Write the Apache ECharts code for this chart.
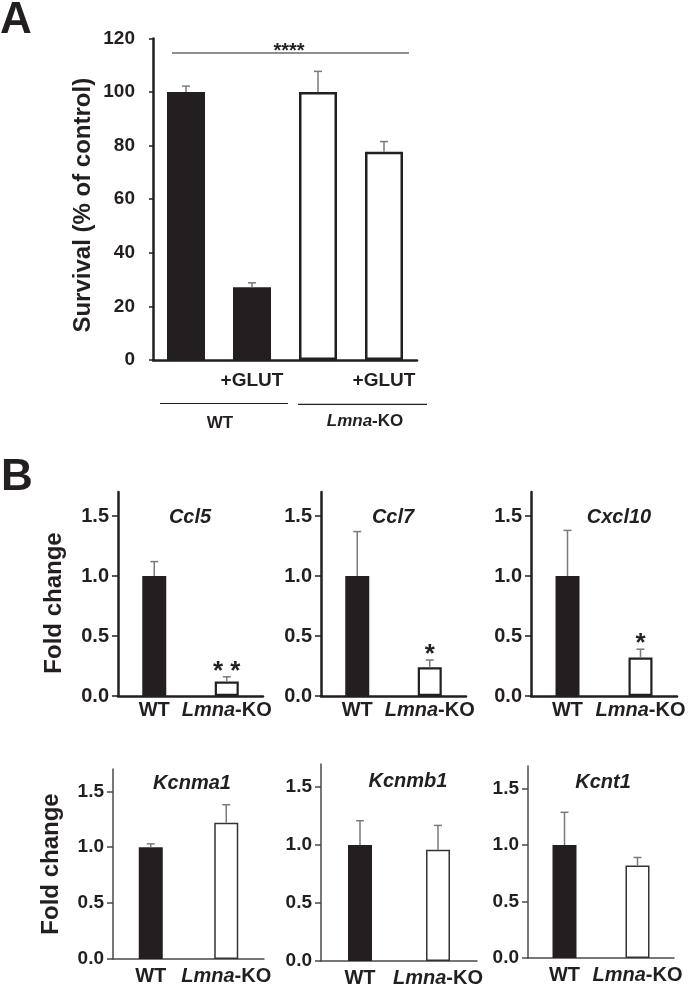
<!DOCTYPE html>
<html>
<head>
<meta charset="utf-8">
<script src="https://cdn.jsdelivr.net/npm/echarts@6/dist/echarts.min.js"></script>
<style>
  html, body { margin: 0; padding: 0; background: #fff; }
  #chart { width: 697px; height: 992px; }
</style>
</head>
<body>
<div id="chart"></div>
<script>
// panel A: survival after glutamate
const survivalCats = ['WT', 'WT +GLUT', 'Lmna-KO', 'Lmna-KO +GLUT']
const survivalMean = [100, 27.1, 100, 77.7]
const survivalErr = [2.2, 1.7, 7.7, 3.8]
const survivalTicks = [0, 20, 40, 60, 80, 100, 120]

// panel B: fold change per gene
const groups = ['WT', 'Lmna-KO']
const genes = ['Ccl5', 'Ccl7', 'Cxcl10', 'Kcnma1', 'Kcnmb1', 'Kcnt1']
const wtMean = [1, 1, 1, 1, 1, 1]
const wtErr = [0.12, 0.37, 0.38, 0.03, 0.21, 0.29]
const koMean = [0.12, 0.24, 0.32, 1.22, 0.96, 0.82]
const koErr = [0.04, 0.06, 0.07, 0.16, 0.21, 0.07]
const koStars = ['**', '*', '*', '', '', '']
const foldTicks = [0, 0.5, 1, 1.5]

const FONT = '"Liberation Sans", Arial, Helvetica, sans-serif'
const BLACK = '#231f20'
const ERR = '#7a7a7a'

// grid boxes for the six small panels, plus where each gene name sits
const panels = [
  { left: 118, top: 492, width: 145, height: 204, title: [190, 517] },
  { left: 321, top: 492, width: 145, height: 204, title: [393, 517] },
  { left: 531, top: 492, width: 146, height: 204, title: [619, 517] },
  { left: 113, top: 769, width: 151, height: 190, title: [192, 783] },
  { left: 321, top: 764, width: 156, height: 197, title: [408, 781] },
  { left: 528, top: 766, width: 146, height: 192, title: [603, 782] }
]

function errorBars(stars, capHalf) {
  return function(params, api) {
    const x = api.value(0)
    const m = api.value(1)
    const e = api.value(2)
    const base = api.coord([x, m])
    const top = api.coord([x, m + e])
    const stroke = { stroke: ERR, lineWidth: 1.5 }
    const children = [
      { type: 'line', shape: { x1: base[0], y1: base[1], x2: top[0], y2: top[1] }, style: stroke },
      { type: 'line', shape: { x1: top[0] - capHalf, y1: top[1], x2: top[0] + capHalf, y2: top[1] }, style: stroke }
    ]
    const star = stars && stars[params.dataIndex]
    if (star) {
      children.push({
        type: 'text',
        x: top[0],
        y: top[1] + 8,
        style: { text: star.split('').join(' '), align: 'center', verticalAlign: 'bottom', font: 'bold 26px ' + FONT, fill: BLACK }
      })
    }
    return { type: 'group', children }
  }
}

function groupLabel(v) {
  const p = v.split('-')
  return p.length > 1 ? '{i|' + p[0] + '}{n|-' + p[1] + '}' : '{n|' + v + '}'
}

const grid = [{ left: 153, top: 38.4, width: 264, height: 321.6 }]
const xAxis = [{
  type: 'category',
  gridIndex: 0,
  data: survivalCats,
  axisTick: { show: false },
  axisLine: { lineStyle: { color: BLACK, width: 2.5 } },
  axisLabel: {
    interval: 0,
    hideOverlap: false,
    margin: 11,
    fontSize: 19,
    fontWeight: 'bold',
    fontFamily: FONT,
    color: BLACK,
    formatter: v => v.indexOf('+GLUT') >= 0 ? '+GLUT' : ''
  }
}]
const yAxis = [{
  type: 'value',
  gridIndex: 0,
  min: 0,
  max: 120,
  interval: 20,
  splitLine: { show: false },
  axisLine: { show: true, lineStyle: { color: BLACK, width: 2.5 } },
  axisTick: { show: true, length: 4, lineStyle: { color: BLACK, width: 1.5 }, customValues: survivalTicks },
  axisLabel: { margin: 18, fontSize: 19, fontWeight: 'bold', fontFamily: FONT, color: BLACK, customValues: survivalTicks },
  name: 'Survival (% of control)',
  nameLocation: 'middle',
  nameGap: 58,
  nameTextStyle: { fontSize: 24, fontWeight: 'bold', fontFamily: FONT, color: BLACK, padding: [0, 12, 0, 0] }
}]
const series = [{
  type: 'bar',
  xAxisIndex: 0,
  yAxisIndex: 0,
  barWidth: 38,
  silent: true,
  data: survivalMean.map((v, i) => ({
    value: v,
    itemStyle: i < 2
      ? { color: BLACK }
      : { color: '#fff', borderColor: BLACK, borderWidth: 2.5 }
  }))
}, {
  type: 'custom',
  xAxisIndex: 0,
  yAxisIndex: 0,
  z: 3,
  silent: true,
  renderItem: errorBars(null, 4),
  data: survivalMean.map((v, i) => [i, v, survivalErr[i]])
}]

panels.forEach((p, i) => {
  const idx = i + 1
  const topRow = i < 3
  const axisColor = topRow ? BLACK : '#4a4a4a'
  const axisWidth = topRow ? 2.5 : 1.5
  grid.push({ left: p.left, top: p.top, width: p.width, height: p.height })
  xAxis.push({
    type: 'category',
    gridIndex: idx,
    data: groups,
    axisTick: { show: false },
    axisLine: { lineStyle: { color: axisColor, width: axisWidth } },
    axisLabel: {
      interval: 0,
      hideOverlap: false,
      margin: topRow ? 4 : 7,
      formatter: groupLabel,
      rich: {
        i: { fontStyle: 'italic', fontWeight: 'bold', fontSize: 20, fontFamily: FONT, color: BLACK },
        n: { fontWeight: 'bold', fontSize: 20, fontFamily: FONT, color: BLACK }
      }
    }
  })
  yAxis.push({
    type: 'value',
    gridIndex: idx,
    min: 0,
    max: 1.7,
    splitLine: { show: false },
    axisLine: { show: true, lineStyle: { color: axisColor, width: axisWidth } },
    axisTick: { show: true, length: 6, lineStyle: { color: axisColor, width: 1.5 }, customValues: foldTicks },
    axisLabel: {
      margin: 9,
      fontSize: topRow ? 20 : 19,
      fontWeight: 'bold',
      fontFamily: FONT,
      color: BLACK,
      customValues: foldTicks,
      formatter: v => v.toFixed(1)
    },
    name: i % 3 === 0 ? 'Fold change' : '',
    nameLocation: 'middle',
    nameGap: topRow ? 52 : 50,
    nameTextStyle: {
      fontSize: 24,
      fontWeight: 'bold',
      fontFamily: FONT,
      color: BLACK,
      padding: topRow ? [0, 18, 0, 0] : 0
    }
  })
  series.push({
    type: 'bar',
    xAxisIndex: idx,
    yAxisIndex: idx,
    barWidth: 24,
    silent: true,
    data: [
      { value: wtMean[i], itemStyle: { color: BLACK } },
      { value: koMean[i], itemStyle: { color: '#fff', borderColor: topRow ? BLACK : '#333', borderWidth: topRow ? 2.2 : 1.5 } }
    ]
  }, {
    type: 'custom',
    xAxisIndex: idx,
    yAxisIndex: idx,
    z: 3,
    silent: true,
    renderItem: errorBars(['', koStars[i]], 4),
    data: [[0, wtMean[i], wtErr[i]], [1, koMean[i], koErr[i]]]
  })
})

const graphic = [
  { type: 'text', x: 0, y: 21, style: { text: 'A', font: 'bold 44px ' + FONT, fill: BLACK, verticalAlign: 'middle' } },
  { type: 'text', x: 1, y: 478, style: { text: 'B', font: 'bold 44px ' + FONT, fill: BLACK, verticalAlign: 'middle' } },
  // significance bracket over panel A
  { type: 'line', shape: { x1: 172, y1: 53, x2: 409, y2: 53 }, style: { stroke: BLACK, lineWidth: 1.2 } },
  { type: 'text', x: 289, y: 51, style: { text: '****', font: 'bold 20px ' + FONT, fill: BLACK, align: 'center', verticalAlign: 'middle' } },
  // genotype brackets under panel A
  { type: 'line', shape: { x1: 160, y1: 403.5, x2: 288, y2: 403.5 }, style: { stroke: BLACK, lineWidth: 1.2 } },
  { type: 'line', shape: { x1: 298, y1: 404.3, x2: 427, y2: 404.3 }, style: { stroke: BLACK, lineWidth: 1.2 } },
  { type: 'text', x: 220, y: 423, style: { text: 'WT', font: 'bold 17px ' + FONT, fill: BLACK, align: 'center', verticalAlign: 'middle' } },
  {
    type: 'text', x: 365, y: 421,
    style: {
      text: '{i|Lmna}{n|-KO}', align: 'center', verticalAlign: 'middle',
      rich: {
        i: { fontStyle: 'italic', fontWeight: 'bold', fontSize: 17, fontFamily: FONT, fill: BLACK },
        n: { fontWeight: 'bold', fontSize: 17, fontFamily: FONT, fill: BLACK }
      }
    }
  }
]
panels.forEach((p, i) => {
  graphic.push({
    type: 'text',
    x: p.title[0],
    y: p.title[1],
    style: { text: genes[i], font: 'italic bold 20px ' + FONT, fill: BLACK, align: 'center', verticalAlign: 'middle' }
  })
})

const chart = echarts.init(document.getElementById('chart'))
chart.setOption({
  animation: false,
  backgroundColor: '#fff',
  grid,
  xAxis,
  yAxis,
  series,
  graphic
})
</script>
</body>
</html>
